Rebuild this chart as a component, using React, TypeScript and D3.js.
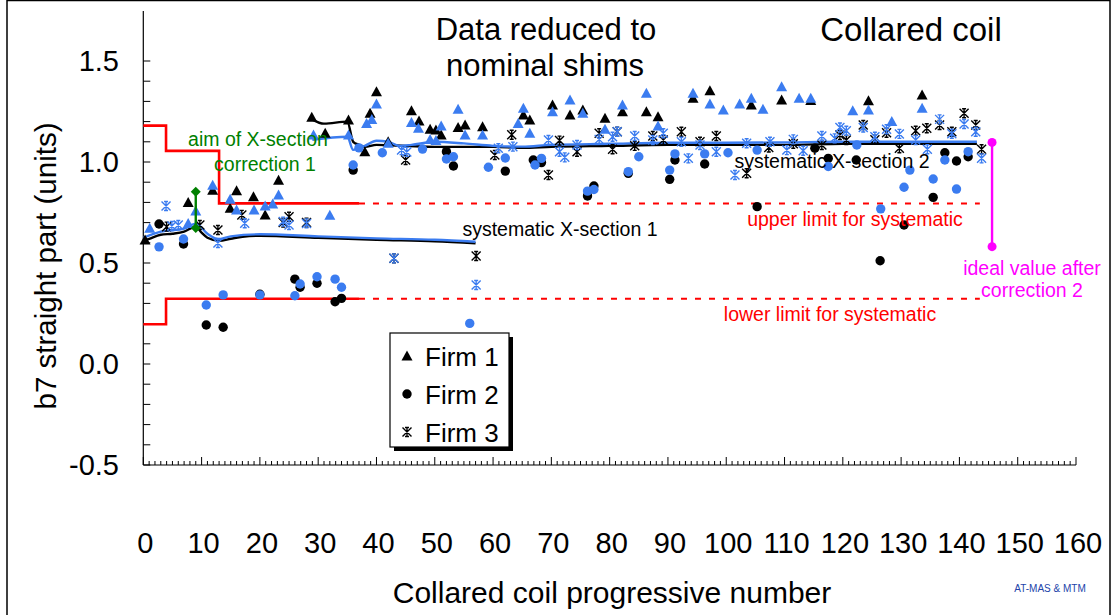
import * as d3 from "d3";

// coil number, b7 value
const firm1Black: [number, number][] = [
  [0.3, 0.614], [7.7, 0.8], [11.9, 0.86], [14.9, 0.771], [16, 0.858], [18.9, 0.828], [20.9, 0.738],
  [23.2, 0.91], [28.9, 1.221], [31.2, 1.142], [35.2, 1.208], [38, 1.051], [38.9, 1.241], [40, 1.348],
  [42, 1.1], [46, 1.254], [47.3, 1.203], [49.2, 1.162], [50.2, 1.158], [51.1, 1.134], [54, 1.171],
  [55.2, 1.183], [58.2, 1.175], [65.2, 1.233], [66.3, 1.208], [70.2, 1.282], [73.2, 1.233],
  [75.4, 1.257], [79.2, 1.216], [82.2, 1.249], [86.3, 1.249], [88.3, 1.224], [94.3, 1.315],
  [97.2, 1.353], [104.3, 1.282], [109.5, 1.307], [114.5, 1.305], [124.4, 1.303], [133.6, 1.332],
];
const firm1Blue: [number, number][] = [
  [1.1, 0.672], [7.7, 0.696], [9, 0.757], [11.9, 0.885], [14.9, 0.815], [16, 0.762], [19, 0.762],
  [20.9, 0.782], [22.2, 0.792], [23.2, 0.837], [29.2, 1.134], [32, 0.737], [35.2, 1.134], [38.3, 1.19],
  [39.2, 1.211], [40, 1.287], [42, 1.093], [46, 1.195], [47.2, 1.167], [49.2, 1.112], [50.2, 1.106],
  [51.1, 1.178], [54, 1.261], [55.2, 1.134], [58.2, 1.134], [64.3, 1.191], [65.2, 1.266], [66.3, 1.142],
  [70.2, 1.249], [73.2, 1.307], [75.4, 1.241], [79.2, 1.162], [82.2, 1.282], [86.3, 1.34], [88.3, 1.178],
  [94.3, 1.34], [97.2, 1.287], [99.5, 1.257], [102.3, 1.287], [104.3, 1.315], [106.3, 1.261],
  [109.5, 1.373], [112.5, 1.315], [114.5, 1.315], [121.7, 1.254], [124.4, 1.257], [128.4, 1.2], [133.6, 1.266],
];
const firm2Black: [number, number][] = [
  [2.7, 0.693], [6.9, 0.594], [10.8, 0.193], [13.7, 0.182], [20, 0.345], [26, 0.42], [26.9, 0.38],
  [29.8, 0.4], [32.9, 0.308], [34, 0.325], [36, 0.96], [52, 1.051], [53.2, 0.98], [62.1, 0.955],
  [66.9, 1.01], [68.3, 0.997], [76.2, 0.832], [77.3, 0.881], [83.2, 0.944], [90.3, 0.914], [91.2, 1.01],
  [96.3, 0.99], [105.3, 0.779], [115.2, 1.068], [117.5, 1.018], [122.3, 1.01], [126.4, 0.511],
  [130.5, 0.688], [135.5, 0.825], [137.5, 1.046], [139.5, 1.005], [141.5, 1.026],
];
const firm2Blue: [number, number][] = [
  [2.7, 0.58], [6.9, 0.619], [10.8, 0.292], [13.7, 0.342], [20, 0.342], [26, 0.338], [26.9, 0.396],
  [29.8, 0.432], [32.9, 0.42], [34, 0.38], [36, 0.985], [37, 1.07], [41, 1.046], [47.9, 1.064],
  [52, 1.015], [53.2, 1.026], [56, 0.201], [59.2, 0.974], [62.1, 1.02], [67.2, 0.985], [68.3, 1.018],
  [76.2, 0.856], [77.3, 0.864], [83.2, 0.952], [85, 1.026], [90.3, 0.96], [91.2, 1.04], [96.3, 1.04],
  [100.3, 1.046], [105.3, 1.059], [117.5, 0.978], [122.4, 1.084], [126.5, 0.768], [130.5, 0.875],
  [131.5, 0.96], [135.5, 0.916], [137.5, 1.01], [139.5, 0.866], [141.5, 1.051],
];
const firm3Black: [number, number][] = [
  [4, 0.68], [9.7, 0.688], [12.8, 0.663], [16.9, 0.738], [24, 0.7], [25, 0.729], [28, 0.7], [43, 0.523],
  [45, 1.01], [57.1, 0.535], [60.3, 1.035], [63.2, 1.135], [69.5, 0.936], [71.4, 1.106], [74.4, 1.051],
  [78.2, 1.142], [80.5, 1.063], [81.3, 1.15], [84.3, 1.08], [87.4, 1.129], [89.2, 1.109], [92.3, 1.15],
  [95.5, 1.1], [98.3, 1.129], [103.5, 0.944], [107.3, 1.072], [111.5, 1.09], [116.4, 1.084],
  [119.5, 1.134], [120.6, 1.109], [123.5, 1.183], [125.5, 1.11], [127.5, 1.145], [129.7, 1.068],
  [132.5, 1.155], [134.4, 1.167], [136.6, 1.183], [138.7, 1.15], [140.8, 1.241], [142.8, 1.183], [143.8, 1.063],
];
const firm3Blue: [number, number][] = [
  [3.9, 0.782], [4.9, 0.683], [6, 0.688], [12.8, 0.599], [17.4, 0.697], [24, 0.705], [25, 0.688],
  [28, 0.696], [43, 0.523], [44.3, 1.059], [45.2, 1.05], [57.1, 0.391], [60.9, 1.068], [63.4, 1.076],
  [69.5, 1.109], [71.4, 1.051], [72.3, 1.023], [74.4, 1.084], [78.2, 1.112], [80.5, 1.125], [81.3, 1.15],
  [84.3, 1.129], [87.4, 1.109], [89.2, 1.142], [92.3, 1.1], [93.5, 1.018], [95.5, 1.084], [98.3, 1.051],
  [101.5, 0.936], [103.5, 1.093], [107.5, 1.1], [110.4, 1.059], [111.5, 1.112], [113.2, 1.056],
  [116.4, 1.129], [118.6, 1.117], [119.5, 1.171], [120.6, 1.155], [123.5, 1.171], [125.5, 1.125],
  [127.5, 1.162], [129.7, 1.139], [132.5, 1.109], [134.5, 1.063], [136.6, 1.211], [138.7, 1.14],
  [140.8, 1.188], [142.8, 1.15], [143.8, 1.018],
];

// running "systematic" curves
const sys1Black: [number, number][] = [
  [0, 0.61], [1, 0.62], [3, 0.64], [5, 0.645], [7, 0.655], [9, 0.68], [10, 0.65], [11, 0.625], [13, 0.61],
  [15, 0.62], [17, 0.63], [20, 0.635], [30, 0.625], [40, 0.615], [50, 0.608], [57, 0.598],
];
const sys1Blue: [number, number][] = [
  [0, 0.625], [3, 0.655], [7, 0.67], [9, 0.695], [11, 0.645], [13, 0.618], [15, 0.632], [20, 0.642],
  [30, 0.632], [40, 0.622], [50, 0.615], [57, 0.605],
];
const sys2Black: [number, number][] = [
  [29, 1.21], [31, 1.19], [35, 1.2], [36, 1.1], [37, 1.085], [38, 1.075], [40, 1.085], [45, 1.08],
  [50, 1.075], [55, 1.075], [60, 1.075], [65, 1.07], [70, 1.075], [80, 1.08], [90, 1.085], [100, 1.085],
  [110, 1.085], [120, 1.09], [130, 1.09], [143, 1.09],
];
const sys2Blue: [number, number][] = [
  [29, 1.11], [35, 1.125], [36, 1.06], [37, 1.07], [38, 1.08], [40, 1.105], [42, 1.1], [44, 1.08],
  [46, 1.085], [50, 1.1], [55, 1.092], [60, 1.08], [65, 1.076], [70, 1.085], [80, 1.09], [90, 1.095],
  [100, 1.095], [110, 1.097], [120, 1.1], [130, 1.1], [143, 1.1],
];

const upperLimit: [number, number][] = [[0, 1.18], [3.9, 1.18], [3.9, 1.055], [13, 1.055], [13, 0.795], [37, 0.795]];
const lowerLimit: [number, number][] = [[0, 0.197], [3.9, 0.197], [3.9, 0.323], [37, 0.323]];
const upperDashed: [number, number][] = [[37, 0.795], [143.5, 0.795]];
const lowerDashed: [number, number][] = [[37, 0.323], [143.5, 0.323]];
const aimSegment: [number, number][] = [[9, 0.853], [9, 0.673]];
const idealSegment: [number, number][] = [[145.6, 1.097], [145.6, 0.581]];

const xTicks = d3.range(0, 161, 10);
const yTicks = [-0.5, 0, 0.5, 1.0, 1.5];
const legendItems = ["Firm 1", "Firm 2", "Firm 3"];

const BLUE = "#3b7cf0";
const FONT = "Arial, 'Liberation Sans', sans-serif";

function Marker({ kind, x, y, color }: { kind: number; x: number; y: number; color: string }) {
  if (kind === 0) {
    return <path d={`M${x},${y - 5.5}L${x + 5.5},${y + 4.5}L${x - 5.5},${y + 4.5}Z`} fill={color} />;
  }
  if (kind === 1) {
    return <circle cx={x} cy={y} r={4.7} fill={color} />;
  }
  const s = 4.5;
  return (
    <path
      d={`M${x - s},${y - s}L${x + s},${y + s}M${x - s},${y + s}L${x + s},${y - s}M${x},${y - s - 0.5}L${x},${y + s + 0.5}M${x - 2},${y - s}L${x + 2},${y - s}M${x - 2},${y + s}L${x + 2},${y + s}`}
      stroke={color}
      strokeWidth={1.4}
      fill="none"
    />
  );
}

export default function App() {
  const x = d3.scaleLinear().domain([0, 160]).range([143.3, 1076]);
  const y = d3.scaleLinear().domain([-0.5, 1.5]).range([465, 61]);
  const line = d3.line<[number, number]>().x((d) => x(d[0])).y((d) => y(d[1]));
  const curve = d3.line<[number, number]>().x((d) => x(d[0])).y((d) => y(d[1])).curve(d3.curveMonotoneX);

  const minorX = d3.range(0, 161, 1);
  const minorY = d3.range(-0.5, 1.51, 0.1);

  const series: { data: [number, number][]; kind: number; color: string }[] = [
    { data: firm1Black, kind: 0, color: "#000" },
    { data: firm2Black, kind: 1, color: "#000" },
    { data: firm3Black, kind: 2, color: "#000" },
    { data: firm1Blue, kind: 0, color: BLUE },
    { data: firm2Blue, kind: 1, color: BLUE },
    { data: firm3Blue, kind: 2, color: BLUE },
  ];

  return (
    <div style={{ position: "absolute", left: 0, top: 0 }}>
      <svg width={1116} height={615} style={{ display: "block", background: "#fff" }} fontFamily={FONT}>
        <rect x={7} y={0.5} width={1103} height={620} fill="none" stroke="#000" strokeWidth={1.5} />

        {/* axes */}
        <line x1={x(0)} x2={x(0)} y1={y(-0.5)} y2={y(1.5) - 50} stroke="#000" strokeWidth={1.2} />
        <line x1={x(0)} x2={x(160)} y1={y(-0.5)} y2={y(-0.5)} stroke="#000" strokeWidth={1.2} />
        {minorX.map((t) => (
          <line key={"mx" + t} x1={x(t)} x2={x(t)} y1={y(-0.5)} y2={y(-0.5) - (t % 10 === 0 ? 8 : 4)} stroke="#000" strokeWidth={1} />
        ))}
        {minorY.map((t, i) => (
          <line key={"my" + i} x1={x(0)} x2={x(0) + 7} y1={y(t)} y2={y(t)} stroke="#000" strokeWidth={1} />
        ))}
        {xTicks.map((t) => (
          <text key={"xt" + t} x={x(t) + 2} y={553} fontSize={29} textAnchor="middle">{t}</text>
        ))}
        {yTicks.map((t) => (
          <text key={"yt" + t} x={119} y={y(t) + 10} fontSize={29} textAnchor="end">{t.toFixed(1)}</text>
        ))}

        {/* limits */}
        <path d={line(upperLimit)!} stroke="#ff0000" strokeWidth={2.6} fill="none" />
        <path d={line(lowerLimit)!} stroke="#ff0000" strokeWidth={2.6} fill="none" />
        <path d={line(upperDashed)!} stroke="#ff0000" strokeWidth={2} strokeDasharray="6,8" fill="none" />
        <path d={line(lowerDashed)!} stroke="#ff0000" strokeWidth={2} strokeDasharray="6,8" fill="none" />

        {/* systematic curves */}
        <path d={curve(sys1Black)!} stroke="#000" strokeWidth={2.4} fill="none" />
        <path d={curve(sys1Blue)!} stroke={BLUE} strokeWidth={2.4} fill="none" />
        <path d={curve(sys2Black)!} stroke="#000" strokeWidth={2.4} fill="none" />
        <path d={curve(sys2Blue)!} stroke={BLUE} strokeWidth={2.4} fill="none" />

        {/* points */}
        {series.map((s, si) =>
          s.data.map((d, i) => <Marker key={si + "-" + i} kind={s.kind} x={x(d[0])} y={y(d[1])} color={s.color} />)
        )}

        {/* aim of correction 1 */}
        <path d={line(aimSegment)!} stroke="#008000" strokeWidth={2.4} fill="none" />
        {aimSegment.map((d, i) => (
          <path key={"g" + i} d={`M${x(d[0])},${y(d[1]) - 5}l5,5l-5,5l-5,-5Z`} fill="#008000" />
        ))}
        {/* ideal value after correction 2 */}
        <path d={line(idealSegment)!} stroke="#ff00ff" strokeWidth={2.4} fill="none" />
        {idealSegment.map((d, i) => (
          <circle key={"m" + i} cx={x(d[0])} cy={y(d[1])} r={4.5} fill="#ff00ff" />
        ))}

        {/* annotations */}
        <text x={258} y={146} fontSize={19.5} fill="#008000" textAnchor="middle">aim of X-section</text>
        <text x={265} y={171} fontSize={19.5} fill="#008000" textAnchor="middle">correction 1</text>
        <text x={560} y={236} fontSize={19.5} textAnchor="middle">systematic X-section 1</text>
        <text x={832} y={168} fontSize={19.5} textAnchor="middle">systematic X-section 2</text>
        <text x={855} y={226} fontSize={19.5} fill="#ff0000" textAnchor="middle">upper limit for systematic</text>
        <text x={830} y={321} fontSize={19.5} fill="#ff0000" textAnchor="middle">lower limit for systematic</text>
        <text x={1032} y={275} fontSize={19.5} fill="#ff00ff" textAnchor="middle">ideal value after</text>
        <text x={1032} y={297} fontSize={19.5} fill="#ff00ff" textAnchor="middle">correction 2</text>

        <text x={546} y={40} fontSize={31} textAnchor="middle">Data reduced to</text>
        <text x={545} y={76} fontSize={31} textAnchor="middle">nominal shims</text>
        <text x={911} y={41} fontSize={33} textAnchor="middle">Collared coil</text>

        <text x={612} y={603} fontSize={30} textAnchor="middle">Collared coil progressive number</text>
        <text x={1050} y={592} fontSize={10} fill="#2244aa" textAnchor="middle">AT-MAS &amp; MTM</text>
        <text transform="translate(56,266) rotate(-90)" fontSize={29.5} textAnchor="middle">b7 straight part (units)</text>

        {/* legend */}
        <rect x={394} y={337} width={119} height={114} fill="#000" />
        <rect x={390} y={333} width={119} height={114} fill="#fff" stroke="#000" strokeWidth={1.2} />
        {legendItems.map((name, i) => (
          <g key={name}>
            <Marker kind={i} x={407} y={356 + i * 38} color="#000" />
            <text x={425} y={366 + i * 38} fontSize={26}>{name}</text>
          </g>
        ))}
      </svg>
    </div>
  );
}
